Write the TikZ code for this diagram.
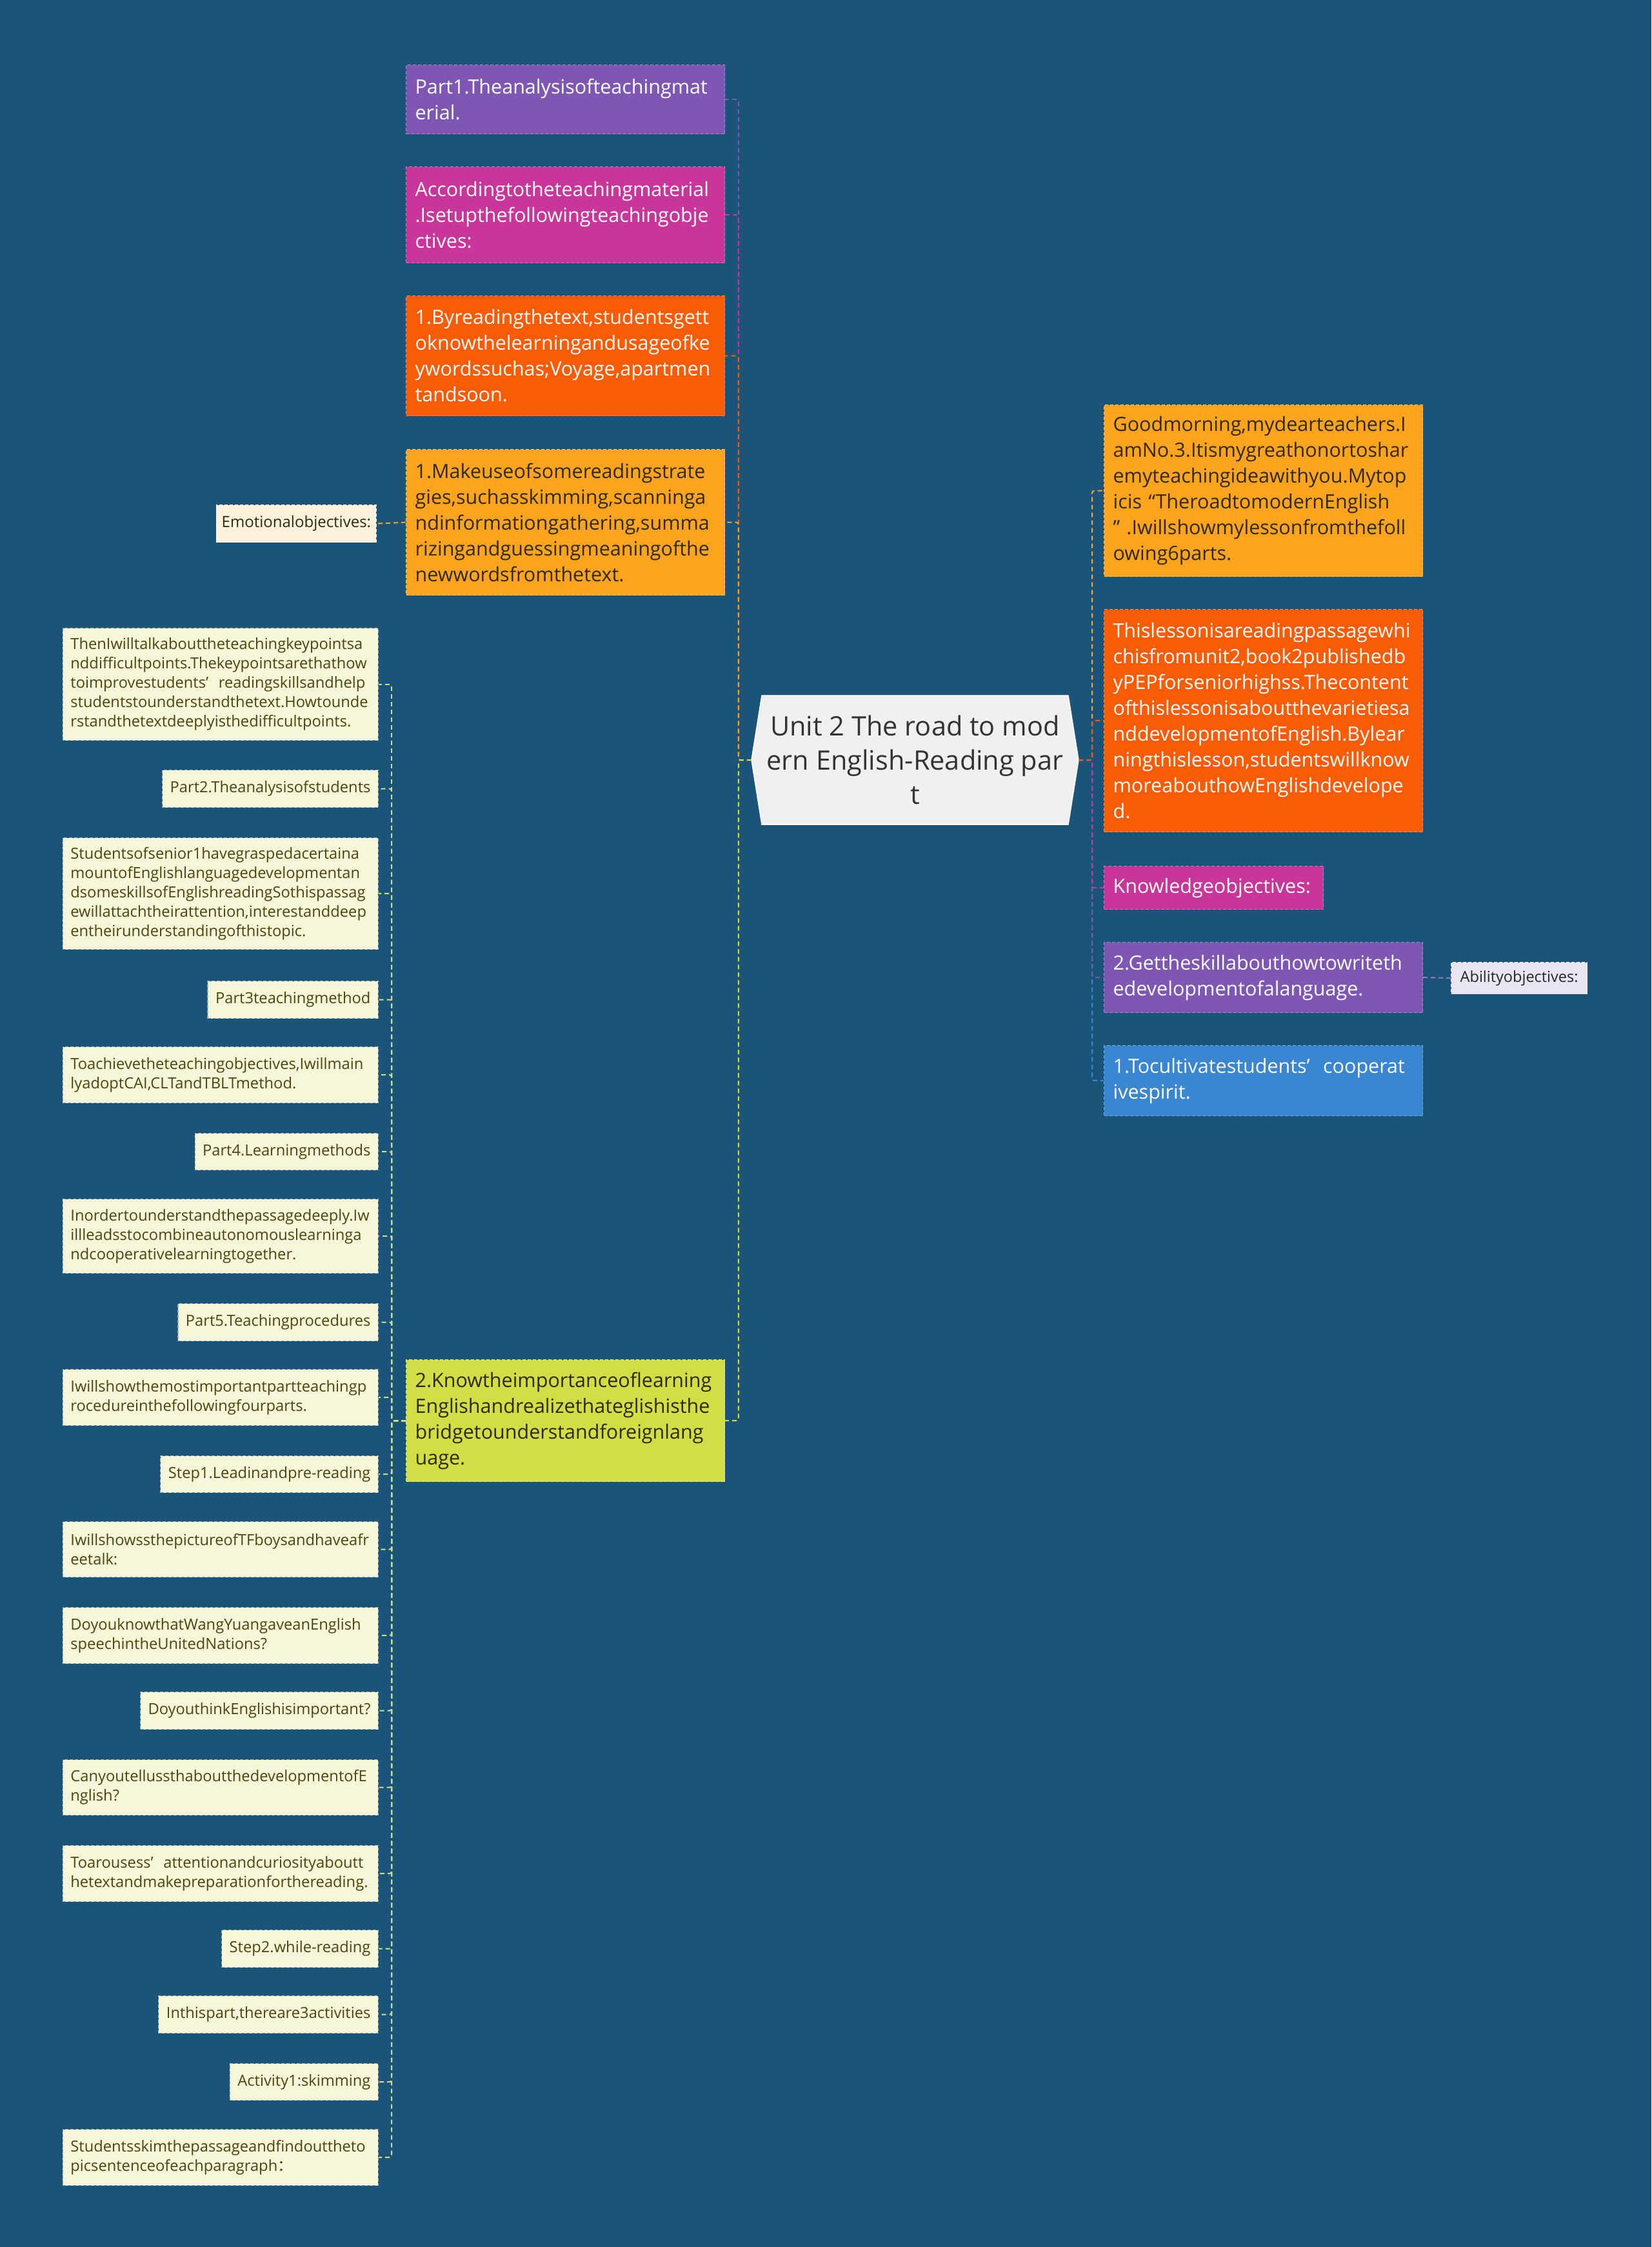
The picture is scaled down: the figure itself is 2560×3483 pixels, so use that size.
\documentclass[tikz,border=0pt]{standalone}
\usepackage{fontspec}
\setmainfont{Open Sans}
\newfontfamily\cjk{Noto Sans CJK SC}
\definecolor{bg}{HTML}{1A5579}
\definecolor{cpurple}{HTML}{7E57B5}
\definecolor{cmagenta}{HTML}{C8369A}
\definecolor{corange}{HTML}{FA5C05}
\definecolor{camber}{HTML}{FFA41F}
\definecolor{clime}{HTML}{D2DE44}
\definecolor{cblue}{HTML}{3A86D0}
\definecolor{cleaf}{HTML}{F7F6DB}
\definecolor{cleaftext}{HTML}{47470C}
\definecolor{clav}{HTML}{E9E5F5}
\definecolor{ccream}{HTML}{FEF1DD}
\definecolor{ccenter}{HTML}{F0F0F0}
\definecolor{cdark}{HTML}{2E2A10}
\definecolor{cleafline}{HTML}{D3E07A}
\tikzset{
  bx/.style n args={3}{fill=#1, draw=#1!70!white, dash pattern=on 5pt off 3pt,
    line width=1.2pt, text=#2, minimum height=#3, inner ysep=0pt},
  mainbox/.style={anchor=north west, text width=466pt, inner xsep=14pt, align=left,
    font=\fontsize{30.5}{40}\selectfont},
  leafbox/.style={fill=cleaf, draw=cleaf!55!bg, dash pattern=on 5pt off 3pt,
    line width=1.2pt, text=cleaftext, minimum height=#1, inner ysep=0pt,
    anchor=north east, inner xsep=12pt, font=\fontsize{23.7}{30}\selectfont},
  leafwide/.style={leafbox=#1, text width=465pt, align=left},
  leafnarrow/.style={leafbox=#1, align=right},
  conn/.style={draw=#1, line width=2pt, dash pattern=on 7pt off 5pt, rounded corners=3pt},
}
\begin{document}
\begin{tikzpicture}[x=1pt,y=-1pt]
\useasboundingbox (0,0) rectangle (2560,3483);
\fill[bg] (0,0) rectangle (2560,3483);

% center
\fill[ccenter, draw=white, line width=1.5pt] (1181,1078) -- (1656,1078) -- (1672,1178) -- (1656,1278) -- (1181,1278) -- (1165,1178) -- cycle;
\node[minimum width=507pt, minimum height=200pt, inner sep=0pt, align=center, text=black!80,
  font=\fontsize{41.5}{53}\selectfont] (ctr) at (1418.5,1178)
  {Unit 2 The road to mod\\ern English-Reading par\\t};

% left main boxes
\node[bx={cpurple}{white}{107pt}, mainbox] (p1) at (629,100)
  {Part1.Theanalysisofteachingmat\\erial.};
\node[bx={cmagenta}{white}{149pt}, mainbox] (acc) at (629,258)
  {Accordingtotheteachingmaterial\\.Isetupthefollowingteachingobje\\ctives:};
\node[bx={corange}{white}{186pt}, mainbox] (byr) at (629,458)
  {1.Byreadingthetext,studentsgett\\oknowthelearningandusageofke\\ywordssuchas;Voyage,apartmen\\tandsoon.};
\node[bx={camber}{cdark}{226pt}, mainbox] (mku) at (629,696)
  {1.Makeuseofsomereadingstrate\\gies,suchasskimming,scanninga\\ndinformationgathering,summa\\rizingandguessingmeaningofthe\\newwordsfromthetext.};
\node[bx={clime}{cdark}{189pt}, mainbox] (know) at (629,2107)
  {2.Knowtheimportanceoflearning\\Englishandrealizethateglishisthe\\bridgetounderstandforeignlang\\uage.};

% right main boxes
\node[bx={camber}{cdark}{266pt}, mainbox] (gm) at (1711,627)
  {Goodmorning,mydearteachers.I\\amNo.3.Itismygreathonortoshar\\emyteachingideawithyou.Mytop\\icis “TheroadtomodernEnglish\\” .Iwillshowmylessonfromthefoll\\owing6parts.};
\node[bx={corange}{white}{345pt}, mainbox] (tl) at (1711,944)
  {Thislessonisareadingpassagewhi\\chisfromunit2,book2publishedb\\yPEPforseniorhighss.Thecontent\\ofthislessonisaboutthevarietiesa\\nddevelopmentofEnglish.Bylear\\ningthislesson,studentswillknow\\moreabouthowEnglishdevelope\\d.};
\node[bx={cmagenta}{white}{67pt}, mainbox, text width=312pt] (ko) at (1711,1342)
  {Knowledgeobjectives:};
\node[bx={cpurple}{white}{109pt}, mainbox] (gs) at (1711,1460)
  {2.Gettheskillabouthowtowriteth\\edevelopmentofalanguage.};
\node[bx={cblue}{white}{109pt}, mainbox] (tc) at (1711,1620)
  {1.Tocultivatestudents’\ \ cooperat\\ivespirit.};
\node[bx={clav}{black!85}{49pt}, anchor=north west, inner xsep=8pt, text width=195pt, align=center,
  font=\fontsize{23.5}{30}\selectfont] (ab) at (2249,1491) {Abilityobjectives:};

\node[bx={ccream}{cdark}{58pt}, anchor=north east, inner xsep=8pt, text width=232pt, align=center,
  font=\fontsize{24}{30}\selectfont] (emo) at (584,782) {Emotionalobjectives:};

% leaves
\node[leafwide=174pt] (l1) at (587,973)
  {ThenIwilltalkabouttheteachingkeypointsa\\nddifficultpoints.Thekeypointsarethathow\\toimprovestudents’\ \ readingskillsandhelp\\studentstounderstandthetext.Howtounde\\rstandthetextdeeplyisthedifficultpoints.};
\node[leafnarrow=58pt] (l2) at (587,1193) {Part2.Theanalysisofstudents};
\node[leafwide=173pt] (l3) at (587,1298)
  {Studentsofsenior1havegraspedacertaina\\mountofEnglishlanguagedevelopmentan\\dsomeskillsofEnglishreadingSothispassag\\ewillattachtheirattention,interestanddeep\\entheirunderstandingofthistopic.};
\node[leafnarrow=58pt] (l4) at (587,1520) {Part3teachingmethod};
\node[leafwide=87pt] (l5) at (587,1622)
  {Toachievetheteachingobjectives,Iwillmain\\lyadoptCAI,CLTandTBLTmethod.};
\node[leafnarrow=57pt] (l6) at (587,1756) {Part4.Learningmethods};
\node[leafwide=115pt] (l7) at (587,1858)
  {Inordertounderstandthepassagedeeply.Iw\\illleadsstocombineautonomouslearninga\\ndcooperativelearningtogether.};
\node[leafnarrow=58pt] (l8) at (587,2020) {Part5.Teachingprocedures};
\node[leafwide=87pt] (l9) at (587,2122)
  {Iwillshowthemostimportantpartteachingp\\rocedureinthefollowingfourparts.};
\node[leafnarrow=57pt] (l10) at (587,2256) {Step1.Leadinandpre-reading};
\node[leafwide=86pt] (l11) at (587,2358)
  {IwillshowssthepictureofTFboysandhaveafr\\eetalk:};
\node[leafwide=87pt] (l12) at (587,2491)
  {DoyouknowthatWangYuangaveanEnglish\\speechintheUnitedNations?};
\node[leafnarrow=58pt] (l13) at (587,2622) {DoyouthinkEnglishisimportant?};
\node[leafwide=86pt] (l14) at (587,2727)
  {CanyoutellussthaboutthedevelopmentofE\\nglish?};
\node[leafwide=87pt] (l15) at (587,2860)
  {Toarousess’\ \ attentionandcuriosityaboutt\\hetextandmakepreparationforthereading.};
\node[leafnarrow=58pt] (l16) at (587,2991) {Step2.while-reading};
\node[leafnarrow=58pt] (l17) at (587,3093) {Inthispart,thereare3activities};
\node[leafnarrow=57pt] (l18) at (587,3198) {Activity1:skimming};
\node[leafwide=87pt] (l19) at (587,3300)
  {Studentsskimthepassageandfindouttheto\\picsentenceofeachparagraph{\cjk ：}};

% connectors: center to left
\draw[conn=cpurple] (ctr.west) -- ++(-20,0) |- (p1.east);
\draw[conn=cmagenta] (ctr.west) -- ++(-20,0) |- (acc.east);
\draw[conn=corange] (ctr.west) -- ++(-20,0) |- (byr.east);
\draw[conn=camber] (ctr.west) -- ++(-20,0) |- (mku.east);
\draw[conn=clime] (ctr.west) -- ++(-20,0) |- (know.east);
% center to right
\draw[conn=cblue] (ctr.east) -- ++(21,0) |- (tc.west);
\draw[conn=camber] (ctr.east) -- ++(21,0) |- (gm.west);
\draw[conn=cpurple] (ctr.east) -- ++(21,0) |- (gs.west);
\draw[conn=cmagenta] (ctr.east) -- ++(21,0) |- (ko.west);
\draw[conn=corange] (ctr.east) -- ++(21,0) |- (tl.west);
% side leaves
\draw[conn=camber] (mku.west) -- (emo.east);
\draw[conn=cpurple!80!white] (gs.east) -- (ab.west);
% lime children
\foreach \n in {l1,l2,l3,l4,l5,l6,l7,l8,l9,l10,l11,l12,l13,l14,l15,l16,l17,l18,l19}
  \draw[conn=cleafline] (know.west) -- ++(-22,0) |- (\n.east);
\end{tikzpicture}
\end{document}
